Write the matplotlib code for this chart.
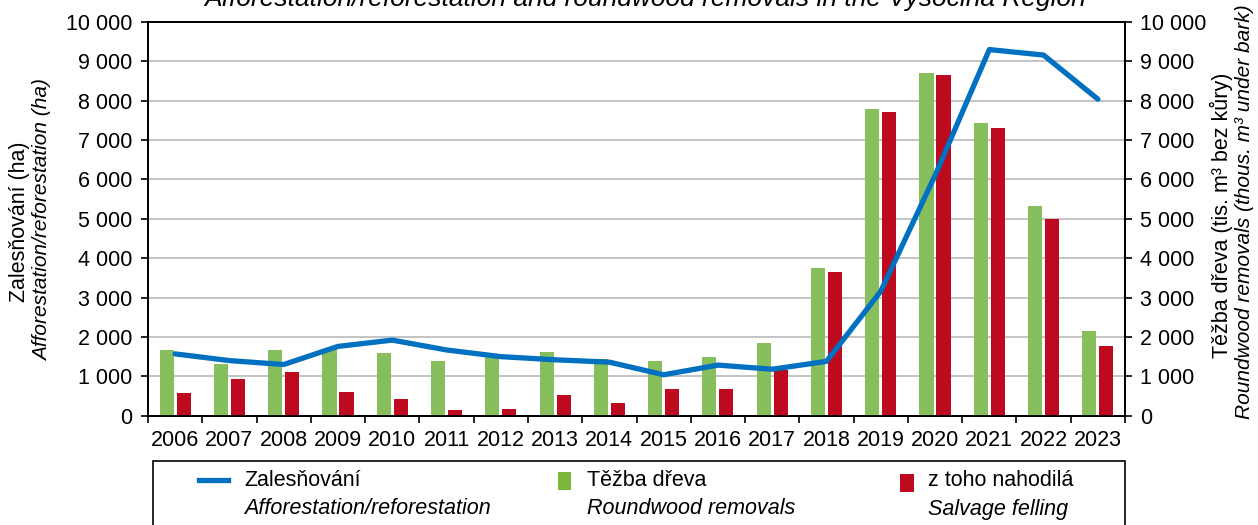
import matplotlib
matplotlib.use("Agg")
import matplotlib.pyplot as plt
from matplotlib.lines import Line2D
from matplotlib.patches import Rectangle
import numpy as np

plt.rcParams['font.family'] = ['Liberation Sans', 'DejaVu Sans']

years = ["2006", "2007", "2008", "2009", "2010", "2011", "2012", "2013", "2014",
         "2015", "2016", "2017", "2018", "2019", "2020", "2021", "2022", "2023"]
afforestation = [1570, 1400, 1300, 1760, 1920, 1670, 1500, 1420, 1360,
                 1040, 1285, 1180, 1380, 3160, 6100, 9300, 9160, 8040]
roundwood = [1680, 1310, 1660, 1690, 1590, 1400, 1500, 1630, 1440,
             1400, 1480, 1840, 3760, 7780, 8700, 7430, 5320, 2160]
salvage = [570, 935, 1120, 605, 420, 155, 180, 535, 325,
           670, 680, 1150, 3650, 7720, 8650, 7310, 4990, 1770]

yticks = [0, 1000, 2000, 3000, 4000, 5000, 6000, 7000, 8000, 9000, 10000]
ytick_labels = ["0", "1 000", "2 000", "3 000", "4 000", "5 000", "6 000",
                "7 000", "8 000", "9 000", "10 000"]

BLUE = "#0070C0"
GREEN = "#87BF5D"
RED = "#BE0A1E"
FS = 15.5

W, H = 1258, 525
fig = plt.figure(figsize=(W / 100, H / 100), dpi=100)
ax_l, ax_r, ax_b, ax_t = 148, 1125, 415.7, 22
ax2 = fig.add_axes([ax_l / W, 1 - ax_b / H, (ax_r - ax_l) / W, (ax_b - ax_t) / H])
ax = ax2.twinx()
ax2.yaxis.tick_right()
ax2.yaxis.set_label_position("right")
ax.yaxis.tick_left()
ax.yaxis.set_label_position("left")

x = np.arange(len(years))
bw = 0.26
off = 0.157
ax2.bar(x - off, roundwood, width=bw, color=GREEN, zorder=3)
ax2.bar(x + off, salvage, width=bw, color=RED, zorder=3)
ax.plot(x, afforestation, color=BLUE, lw=3.8, solid_capstyle='round',
        solid_joinstyle='round', zorder=4)

for a in (ax, ax2):
    a.set_xlim(-0.5, len(years) - 0.5)
    a.set_ylim(0, 10000)
    a.set_yticks(yticks)
    a.set_yticklabels(ytick_labels, fontsize=FS)
    a.tick_params(axis='y', direction='out', length=5, width=1.2, pad=6)
    for s in a.spines.values():
        s.set_linewidth(1.3)
        s.set_color('black')

ax2.yaxis.grid(True, color='#C4C4C4', lw=1.4, zorder=0)
ax2.set_axisbelow(True)
ax.set_zorder(ax2.get_zorder() + 1)
ax.patch.set_visible(False)

ax2.set_xticks(x)
ax2.set_xticklabels(years, fontsize=FS)
ax2.tick_params(axis='x', which='major', length=0, pad=10)
ax2.set_xticks(np.arange(-0.5, len(years), 1.0), minor=True)
ax2.tick_params(axis='x', which='minor', direction='out', length=5, width=1.2)
ax.tick_params(axis='x', which='both', length=0, labelbottom=False)

# axis labels
fig.text(20 / W, 1 - 222 / H, "Zalesňování (ha)", rotation=90, ha='center', va='center', fontsize=FS)
fig.text(43 / W, 1 - 220 / H, "Afforestation/reforestation (ha)", rotation=90, ha='center',
         va='center', fontsize=FS - 0.5, style='italic')
fig.text(1221 / W, 1 - 215 / H, "Těžba dřeva (tis. m³ bez kůry)", rotation=90, ha='center',
         va='center', fontsize=FS)
fig.text(1245 / W, 1 - 212 / H, "Roundwood removals (thous. m³ under bark)", rotation=90,
         ha='center', va='center', fontsize=15, style='italic')

# title (mostly cut off at the top)
fig.text(645 / W, 1 - 6 / H, "Afforestation/reforestation and roundwood removals in the Vysočina Region",
         ha='center', va='baseline', fontsize=19, style='italic')

# legend box
fig.patches.append(Rectangle((153 / W, 1 - 540 / H), (1125 - 153) / W, (540 - 461) / H,
                             transform=fig.transFigure, fill=False, ec='black', lw=1.2))
fig.lines.append(Line2D([199 / W, 228 / W], [1 - 480 / H, 1 - 480 / H], transform=fig.transFigure,
                        color=BLUE, lw=3.8))
fig.patches.append(Rectangle((558 / W, 1 - 490 / H), 13 / W, 18 / H, transform=fig.transFigure,
                             color="#7AB839", lw=0))
fig.patches.append(Rectangle((900 / W, 1 - 492 / H), 14 / W, 18 / H, transform=fig.transFigure,
                             color=RED, lw=0))
leg = [(244, "Zalesňování", "Afforestation/reforestation"),
       (587, "Těžba dřeva", "Roundwood removals"),
       (928, "z toho nahodilá", "Salvage felling")]
for lx, cz, en in leg:
    fig.text(lx / W, 1 - 481 / H, cz, ha='left', va='center', fontsize=FS)
    fig.text(lx / W, 1 - 509 / H, en, ha='left', va='center', fontsize=FS, style='italic')

fig.savefig("out.png", dpi=100)
